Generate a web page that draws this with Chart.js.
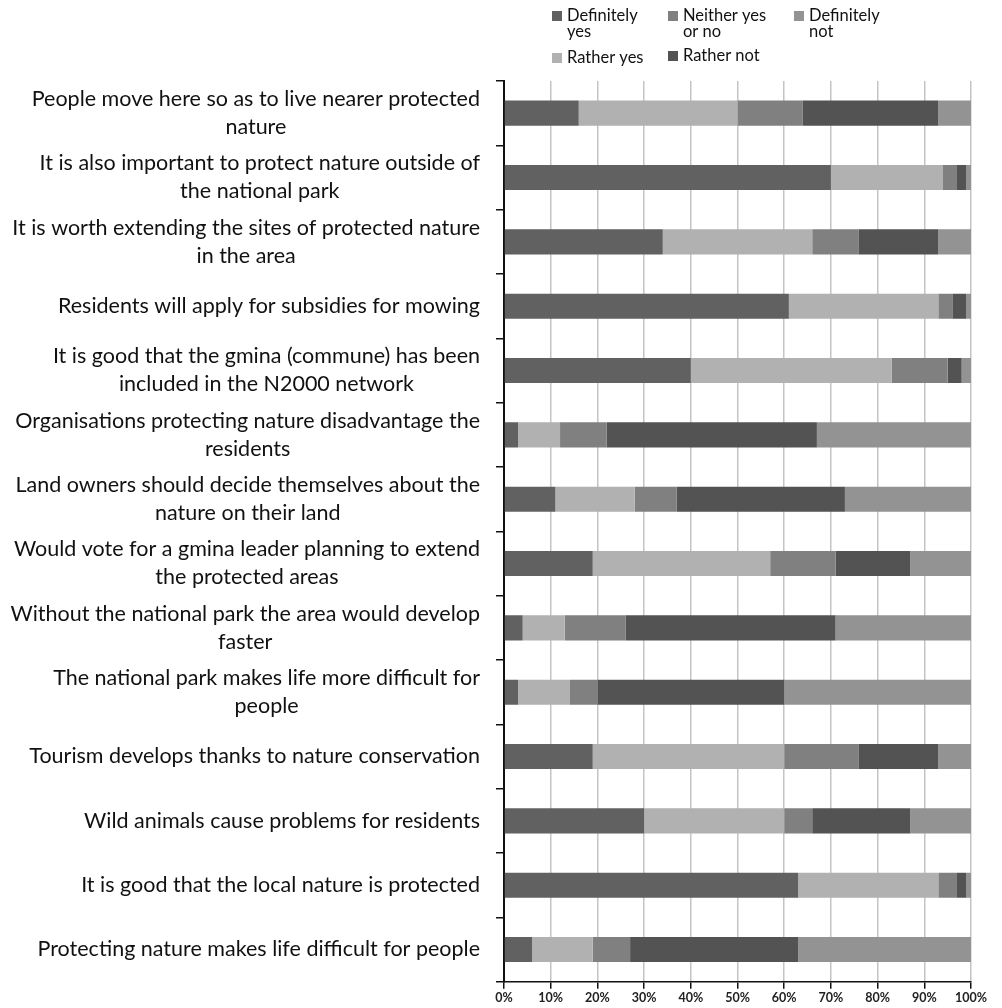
<!DOCTYPE html>
<html>
<head>
<meta charset="utf-8">
<script src="https://cdn.jsdelivr.net/npm/chart.js@4/dist/chart.umd.min.js"></script>
<style>
html,body{margin:0;padding:0;background:#fff;}
#wrap{width:1002px;height:1008px;position:relative;}
</style>
</head>
<body>
<div id="wrap"><canvas id="c" width="1002" height="1008"></canvas></div>
<script>
const categories = [
  ["People move here so as to live nearer protected", "nature"],
  ["It is also important to protect nature outside of", "the national park"],
  ["It is worth extending the sites of protected nature", "in the area"],
  ["Residents will apply for subsidies for mowing"],
  ["It is good that the gmina (commune) has been", "included in the N2000 network"],
  ["Organisations protecting nature disadvantage the", "residents"],
  ["Land owners should decide themselves about the", "nature on their land"],
  ["Would vote for a gmina leader planning to extend", "the protected areas"],
  ["Without the national park the area would develop", "faster"],
  ["The national park makes life more difficult for", "people"],
  ["Tourism develops thanks to nature conservation"],
  ["Wild animals cause problems for residents"],
  ["It is good that the local nature is protected"],
  ["Protecting nature makes life difficult for people"]
];
const definitelyYes = [16, 70, 34, 61, 40, 3, 11, 19, 4, 3, 19, 30, 63, 6];
const ratherYes     = [34, 24, 32, 32, 43, 9, 17, 38, 9, 11, 41, 30, 30, 13];
const neither       = [14, 3, 10, 3, 12, 10, 9, 14, 13, 6, 16, 6, 4, 8];
const ratherNot     = [29, 2, 17, 3, 3, 45, 36, 16, 45, 40, 17, 21, 2, 36];
const definitelyNot = [7, 1, 7, 1, 2, 33, 27, 13, 29, 40, 7, 13, 1, 37];
const seriesNames = [["Definitely", "yes"], ["Rather yes"], ["Neither yes", "or no"], ["Rather not"], ["Definitely", "not"]];
const xTicks = [0, 10, 20, 30, 40, 50, 60, 70, 80, 90, 100];

const colors = ['#616161', '#b1b1b1', '#808080', '#535353', '#939393'];
const FONT = 'Lato, "Open Sans", sans-serif';

// legend layout: [squareX, firstLineCenterY] per series
const legendPos = [[552, 16], [552, 58], [668, 16], [668, 56], [794, 16]];

const labelPlugin = {
  id: 'customLabels',
  afterDraw(chart) {
    const ctx = chart.ctx;
    const ys = chart.scales.y;
    ctx.save();
    ctx.fillStyle = '#111';
    ctx.font = '21.5px ' + FONT;
    ctx.textBaseline = 'middle';
    ctx.textAlign = 'center';
    const rightEdge = 480;
    const lh = 28;
    chart.data.labels.forEach((lines, i) => {
      const yc = ys.getPixelForTick(i);
      let maxW = 0;
      lines.forEach(l => { maxW = Math.max(maxW, ctx.measureText(l).width); });
      const cx = rightEdge - maxW / 2;
      const y0 = yc - (lines.length - 1) * lh / 2;
      lines.forEach((l, k) => ctx.fillText(l, cx, y0 + k * lh));
    });
    // legend
    ctx.font = '16.5px ' + FONT;
    ctx.textAlign = 'left';
    chart.data.datasets.forEach((ds, i) => {
      const [sx, sy] = legendPos[i];
      ctx.fillStyle = ds.backgroundColor;
      ctx.fillRect(sx, sy - 5, 10, 10);
      ctx.fillStyle = '#111';
      const names = seriesNames[i];
      names.forEach((n, k) => ctx.fillText(n, sx + 15, sy + k * 16));
    });
    ctx.restore();
  }
};

const datasets = [definitelyYes, ratherYes, neither, ratherNot, definitelyNot].map((d, i) => ({
  label: seriesNames[i].join(' '),
  data: d,
  backgroundColor: colors[i],
  borderWidth: 0,
  barPercentage: 0.39,
  categoryPercentage: 1.0
}));

new Chart(document.getElementById('c'), {
  type: 'bar',
  data: { labels: categories, datasets: datasets },
  options: {
    indexAxis: 'y',
    responsive: false,
    animation: false,
    devicePixelRatio: 1,
    layout: { padding: { left: 0, right: 31, top: 81, bottom: 0 } },
    plugins: { legend: { display: false }, tooltip: { enabled: false } },
    scales: {
      x: {
        stacked: true,
        min: 0, max: 100,
        afterFit(s) { s.height = 26.3; },
        afterBuildTicks(s) { s.ticks = xTicks.map(v => ({ value: v })); },
        grid: { color: '#c4c4c4', lineWidth: 1.5, tickColor: '#111', tickLength: 7, drawTicks: true },
        border: { color: '#111', width: 1.5 },
        ticks: {
          padding: 2,
          color: '#222',
          font: { family: FONT, size: 12.5, weight: 'bold' },
          callback: v => v + '%',
          maxRotation: 0, autoSkip: false
        }
      },
      y: {
        stacked: true,
        afterFit(s) { s.width = 504; },
        grid: { drawOnChartArea: false, drawTicks: true, tickLength: 8, tickColor: '#111', lineWidth: 1.5, offset: true },
        border: { color: '#111', width: 2 },
        ticks: { display: false }
      }
    }
  },
  plugins: [labelPlugin]
});
</script>
</body>
</html>
